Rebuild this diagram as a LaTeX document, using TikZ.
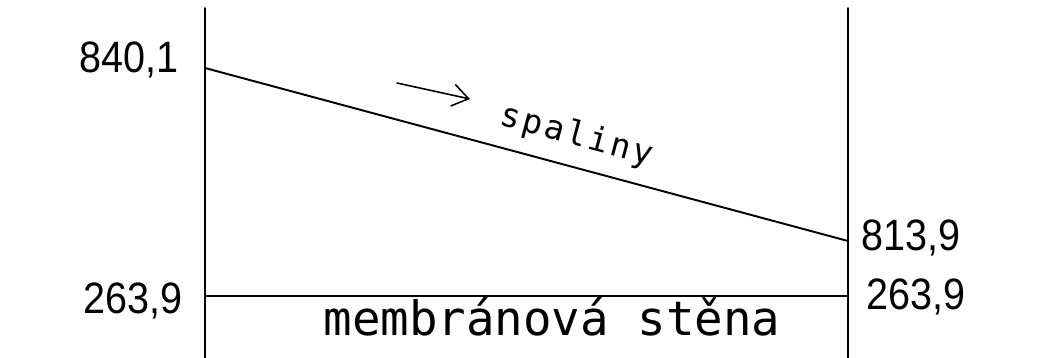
\documentclass[tikz,border=0pt]{standalone}
\usepackage{fontspec}
\setmainfont{Liberation Sans}
\newfontfamily\valfont[FakeStretch=0.9]{Liberation Sans}
\newfontfamily\cadfont{DejaVu Sans Mono}
\newfontfamily\cadwidefont[LetterSpace=8]{DejaVu Sans Mono}
\usetikzlibrary{arrows.meta}
\begin{document}
\begin{tikzpicture}[x=0.02cm, y=-0.02cm, line join=round, line cap=round, >={Straight Barb[length=3.2mm, width=4.4mm]},
		wall/.style={line width=1.1pt},
		value/.style={inner sep=0pt, font=\valfont\fontsize{25}{25}\selectfont},
		cadtext/.style={inner sep=0pt, font=\cadfont}]
			\def\xl{205}
			\def\xr{848}
			\def\ytop{8}
			\def\ybot{358}
			\useasboundingbox (0, 0) rectangle (1041, 358);
			\coordinate (lt) at (\xl, \ytop);
			\coordinate (lb) at (\xl, \ybot);
			\coordinate (rt) at (\xr, \ytop);
			\coordinate (rb) at (\xr, \ybot);
			\coordinate (gasin) at (\xl, 68);
			\coordinate (gasout) at (\xr, 241);
			\coordinate (wallin) at (\xl, 296);
			\coordinate (wallout) at (\xr, 296);
			\coordinate (flowa) at (397, 83);
			\coordinate (flowb) at (470, 99);
			\draw[wall] (lt) -- (lb);
			\draw[wall] (rt) -- (rb);
			\draw[wall] (gasin) -- (gasout);
			\draw[wall] (wallin) -- (wallout);
			\draw[line width=0.9pt, ->] (flowa) -- (flowb);
			\node[value, anchor=base east] (tgin) at (179, 72) {840,1};
			\node[value, anchor=base west] (tgout) at (861, 250) {813,9};
			\node[value, anchor=base east] (twin) at (183, 313) {263,9};
			\node[value, anchor=base west] (twout) at (866, 309) {263,9};
			\node[cadtext, rotate=-15, font=\cadwidefont\fontsize{19}{19}\selectfont] (gas) at (577, 136) {spaliny};
			\node[cadtext, anchor=base, font=\cadfont\fontsize{27}{27}\selectfont] (wallname) at (552, 335) {membránová stěna};
	\end{tikzpicture}
\end{document}
